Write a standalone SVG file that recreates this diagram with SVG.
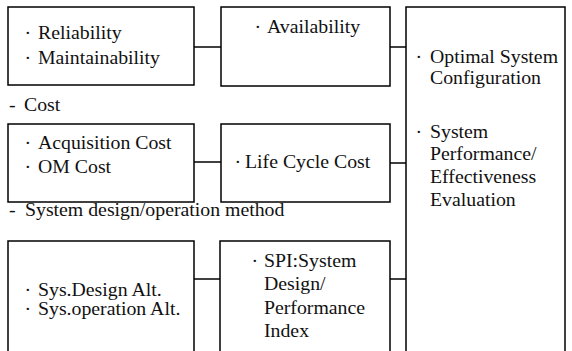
<svg xmlns="http://www.w3.org/2000/svg" width="572" height="351" viewBox="0 0 572 351">
  <style>
    .box { fill: none; stroke: #000; stroke-width: 1.5; }
    .link { stroke: #000; stroke-width: 1.5; fill: none; }
    /* slightly widened serif lettering */
    .t { font-family: "Liberation Serif", serif; font-size: 18px; fill: #111; }
  </style>
  <rect width="572" height="351" fill="#fff"/>

  <!-- connectors between boxes -->
  <g id="connectors">
    <line class="link" x1="194" y1="47" x2="221" y2="47"/>
    <line class="link" x1="390" y1="47" x2="406" y2="47"/>
    <line class="link" x1="194" y1="162" x2="221" y2="162"/>
    <line class="link" x1="390" y1="163" x2="406" y2="163"/>
    <line class="link" x1="194" y1="279" x2="220" y2="279"/>
    <line class="link" x1="390" y1="279" x2="406" y2="279"/>
  </g>

  <g id="reliability">
    <rect class="box" x="8" y="7" width="186" height="78"/>
    <text class="t" transform="scale(1.1 1)" x="22.27" y="39">· <tspan x="34.55">Reliability</tspan></text>
    <text class="t" transform="scale(1.1 1)" x="22.27" y="64">· <tspan x="34.55">Maintainability</tspan></text>
  </g>

  <g id="availability">
    <rect class="box" x="221" y="7" width="169" height="79"/>
    <text class="t" transform="scale(1.1 1)" x="231.36" y="33">· <tspan x="242.73">Availability</tspan></text>
  </g>

  <g id="cost-heading">
    <text class="t" transform="scale(1.1 1)" x="8.18" y="111">- <tspan x="21.82">Cost</tspan></text>
  </g>

  <g id="cost-items">
    <rect class="box" x="8" y="124" width="186" height="78"/>
    <text class="t" transform="scale(1.1 1)" x="22.27" y="149">· <tspan x="34.55">Acquisition Cost</tspan></text>
    <text class="t" transform="scale(1.1 1)" x="22.27" y="173">· <tspan x="34.55">OM Cost</tspan></text>
  </g>

  <g id="life-cycle-cost">
    <rect class="box" x="221" y="124" width="169" height="78"/>
    <text class="t" transform="scale(1.1 1)" x="213.18" y="168">· <tspan x="222.73">Life Cycle Cost</tspan></text>
  </g>

  <g id="method-heading">
    <text class="t" transform="scale(1.1 1)" x="8.18" y="216">- <tspan x="22.73">System design/operation method</tspan></text>
  </g>

  <g id="alternatives">
    <rect class="box" x="8" y="241" width="186" height="125"/>
    <text class="t" transform="scale(1.1 1)" x="22.27" y="296">· <tspan x="34.55">Sys.Design Alt.</tspan></text>
    <text class="t" transform="scale(1.1 1)" x="22.27" y="315">· <tspan x="34.55">Sys.operation Alt.</tspan></text>
  </g>

  <g id="spi">
    <rect class="box" x="220" y="241" width="170" height="125"/>
    <text class="t" transform="scale(1.1 1)" x="228.64" y="267">· <tspan x="240">SPI:System</tspan></text>
    <text class="t" transform="scale(1.1 1)" x="240" y="290">Design/</text>
    <text class="t" transform="scale(1.1 1)" x="240" y="314">Performance</text>
    <text class="t" transform="scale(1.1 1)" x="240" y="337">Index</text>
  </g>

  <g id="evaluation">
    <rect class="box" x="406" y="7" width="159" height="359"/>
    <text class="t" transform="scale(1.1 1)" x="377.73" y="63">· <tspan x="390.91">Optimal System</tspan></text>
    <text class="t" transform="scale(1.1 1)" x="390.91" y="84">Configuration</text>
    <text class="t" transform="scale(1.1 1)" x="377.73" y="138">· <tspan x="390.91">System</tspan></text>
    <text class="t" transform="scale(1.1 1)" x="390.91" y="160">Performance/</text>
    <text class="t" transform="scale(1.1 1)" x="390.91" y="183">Effectiveness</text>
    <text class="t" transform="scale(1.1 1)" x="390.91" y="206">Evaluation</text>
  </g>
</svg>
